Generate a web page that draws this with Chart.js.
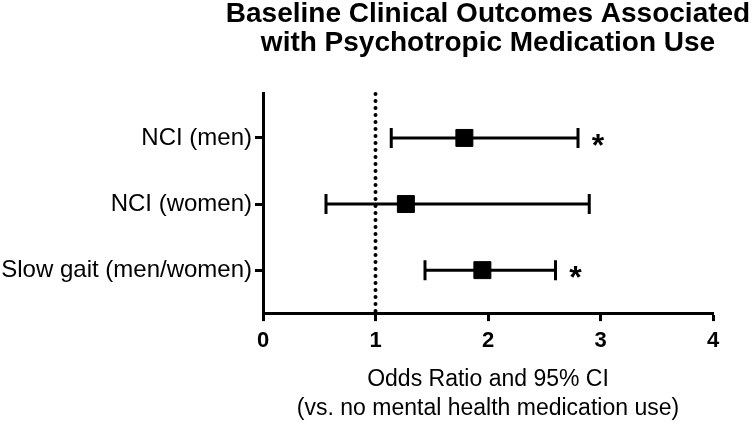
<!DOCTYPE html>
<html>
<head>
<meta charset="utf-8">
<script src="https://cdn.jsdelivr.net/npm/chart.js@4/dist/chart.umd.min.js"></script>
<style>
  body { margin: 0; background: #fff; }
  #wrap { width: 752px; height: 423px; }
</style>
</head>
<body>
<div id="wrap"><canvas id="forest" width="752" height="423"></canvas></div>
<script>
// data
const categories = ["NCI (men)", "NCI (women)", "Slow gait (men/women)"];
const rowPos = [1, 2, 3];
const oddsRatio = [1.79, 1.27, 1.95];
const ciLow = [1.14, 0.56, 1.44];
const ciHigh = [2.80, 2.90, 2.60];
const significant = [true, false, true];
const xTicks = [0, 1, 2, 3, 4];
const refValue = 1;
const titleLines = ["Baseline Clinical Outcomes Associated", "with Psychotropic Medication Use"];

const FONT = "'Liberation Sans', Arial, Helvetica, sans-serif";

// whiskers, caps, dotted reference line, asterisks and title
const forestPlugin = {
    id: "forest",
    beforeDatasetsDraw(chart) {
        const ctx = chart.ctx;
        const xs = chart.scales.x;
        const ys = chart.scales.y;
        const area = chart.chartArea;

        ctx.save();
        // dotted line at OR = 1
        const rx = xs.getPixelForValue(refValue);
        ctx.strokeStyle = "#000";
        ctx.lineWidth = 4;
        ctx.lineCap = "round";
        ctx.setLineDash([0, 7]);
        ctx.beginPath();
        ctx.moveTo(rx, area.bottom - 2);
        ctx.lineTo(rx, area.top - 3);
        ctx.stroke();
        ctx.setLineDash([]);

        ctx.lineCap = "butt";
        ctx.lineWidth = 3;
        rowPos.forEach((r, i) => {
            const y = ys.getPixelForValue(r);
            const x0 = xs.getPixelForValue(ciLow[i]);
            const x1 = xs.getPixelForValue(ciHigh[i]);
            ctx.beginPath();
            ctx.moveTo(x0, y);
            ctx.lineTo(x1, y);
            ctx.moveTo(x0, y - 10);
            ctx.lineTo(x0, y + 10);
            ctx.moveTo(x1, y - 10);
            ctx.lineTo(x1, y + 10);
            ctx.stroke();

            if (significant[i]) {
                ctx.fillStyle = "#000";
                ctx.font = "bold 32px " + FONT;
                ctx.textAlign = "center";
                ctx.textBaseline = "middle";
                ctx.fillText("*", x1 + 20, y + 9);
            }
        });
        ctx.restore();
    },
    afterDraw(chart) {
        const ctx = chart.ctx;
        const area = chart.chartArea;
        const cx = (area.left + area.right) / 2;
        ctx.save();
        ctx.fillStyle = "#000";
        ctx.font = "bold 28px " + FONT;
        ctx.textAlign = "center";
        ctx.textBaseline = "alphabetic";
        titleLines.forEach((t, i) => ctx.fillText(t, cx, 22 + i * 29));
        ctx.restore();
    }
};

new Chart(document.getElementById("forest"), {
    type: "scatter",
    data: {
        datasets: [{
            data: rowPos.map((r, i) => ({ x: oddsRatio[i], y: r })),
            pointStyle: "rect",
            pointRadius: 12,
            pointBorderWidth: 1,
            backgroundColor: "#000",
            borderColor: "#000",
        }]
    },
    options: {
        responsive: false,
        animation: false,
        layout: { padding: { left: 0, right: 39, top: 93, bottom: 0 } },
        plugins: {
            legend: { display: false },
            tooltip: { enabled: false },
            title: { display: false },
        },
        scales: {
            x: {
                type: "linear",
                min: xTicks[0],
                max: xTicks[xTicks.length - 1],
                afterBuildTicks: (scale) => { scale.ticks = xTicks.map(v => ({ value: v })); },
                ticks: {
                    color: "#000",
                    font: { family: FONT, size: 22, weight: "bold" },
                    padding: 7,
                },
                grid: {
                    drawOnChartArea: false,
                    drawTicks: true,
                    tickLength: 8,
                    tickWidth: 3,
                    tickColor: "#000",
                },
                border: { display: true, color: "#000", width: 3 },
                title: {
                    display: true,
                    text: ["Odds Ratio and 95% CI", "(vs. no mental health medication use)"],
                    color: "#000",
                    font: { family: FONT, size: 23, lineHeight: 1.25 },
                    padding: { top: 4, bottom: 0 },
                },
            },
            y: {
                type: "linear",
                reverse: true,
                min: 0.32,
                max: 3.65,
                afterBuildTicks: (scale) => { scale.ticks = rowPos.map(v => ({ value: v })); },
                afterFit: (scale) => { scale.width = 263; },
                ticks: {
                    color: "#000",
                    font: { family: FONT, size: 24 },
                    padding: 3,
                    callback: (v) => categories[rowPos.indexOf(v)],
                },
                grid: {
                    drawOnChartArea: false,
                    drawTicks: true,
                    tickLength: 8,
                    tickWidth: 3,
                    tickColor: "#000",
                },
                border: { display: true, color: "#000", width: 3 },
            },
        },
    },
    plugins: [forestPlugin],
});
</script>
</body>
</html>
